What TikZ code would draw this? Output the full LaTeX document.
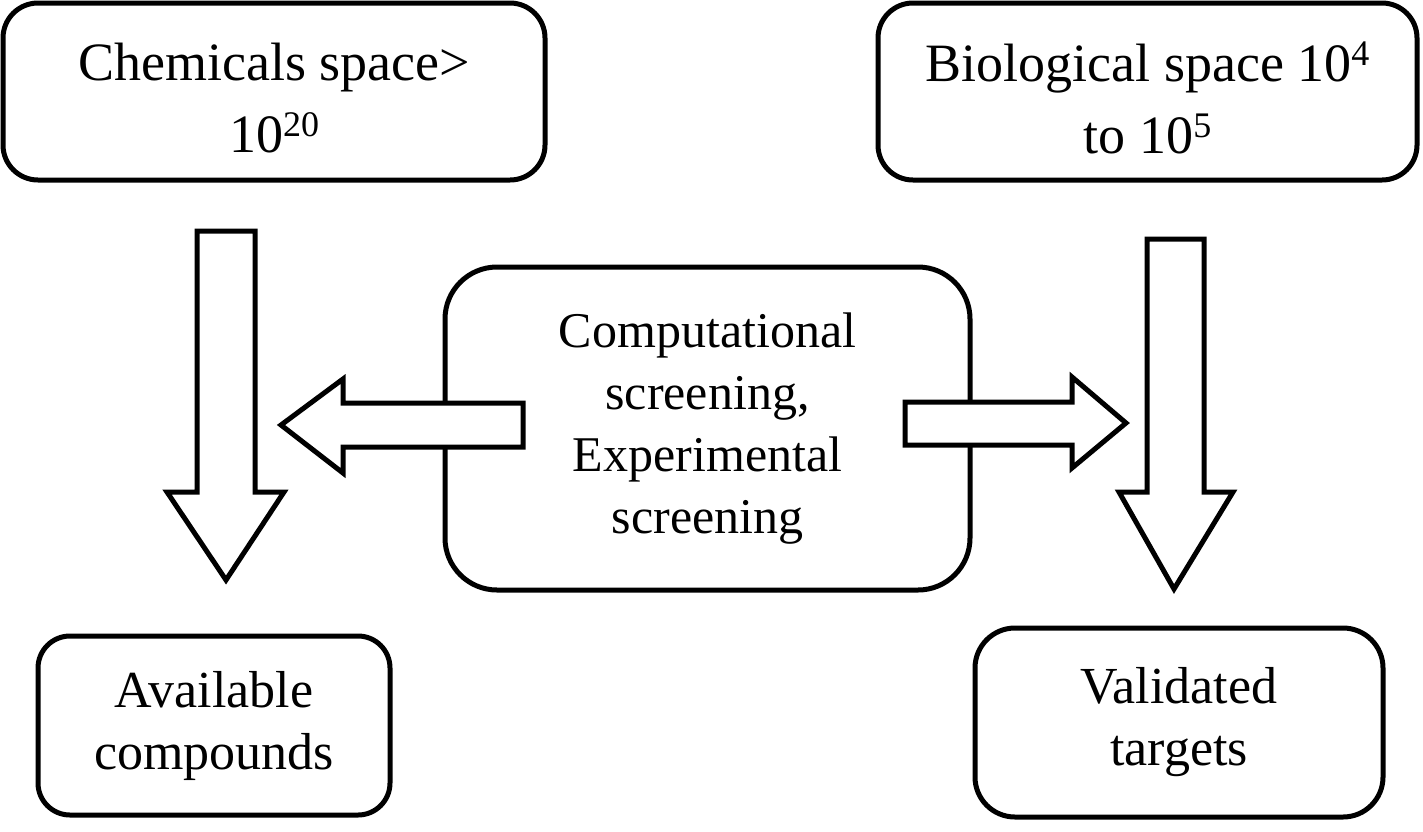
\documentclass[tikz,border=0pt]{standalone}
\usepackage{fontspec}
\setmainfont{Liberation Serif}
\newcommand\supr[1]{\raisebox{0.3em}{\fontsize{36}{36}\selectfont #1}}
\begin{document}
\begin{tikzpicture}[x=1pt,y=-1pt,
  box/.style={draw=black,line width=5pt,fill=white,inner sep=0pt,align=center},
  bigtext/.style={font=\fontsize{54}{72}\selectfont},
  midtext/.style={font=\fontsize{50}{62}\selectfont},
  lowtext/.style={font=\fontsize{52}{62}\selectfont},
  blockarrow/.style={draw=black,line width=5pt,fill=white,line join=miter}]
\useasboundingbox (0,0) rectangle (1423,831);
% boxes
\node[box,rounded corners=35pt,minimum width=542pt,minimum height=177pt] (chem) at (274,91.5) {};
\node[bigtext,align=center] (chemt) at (274,98) {Chemicals space>\\10\supr{20}};
\node[box,rounded corners=35pt,minimum width=539pt,minimum height=177pt] (bio) at (1147.5,91.5) {};
\node[bigtext,align=center] (biot) at (1147.5,98) {Biological space 10\supr{4}\\to 10\supr{5}};
\node[box,midtext,rounded corners=52pt,minimum width=525pt,minimum height=323pt] (scr) at (707.5,428.5) {Computational\\screening,\\Experimental\\screening};
\node[box,lowtext,rounded corners=32pt,minimum width=352pt,minimum height=179pt] (avail) at (214,725.5) {Available\\compounds};
\node[box,lowtext,rounded corners=40pt,minimum width=408pt,minimum height=189pt] (valid) at (1179,722.5) {Validated\\targets};
% left down arrow
\draw[blockarrow] (197,231) -- (255,231) -- (255,492) -- (284,492) -- (226,580) -- (167,492) -- (197,492) -- cycle;
% right down arrow
\draw[blockarrow] (1147,239) -- (1204,239) -- (1204,492) -- (1233,492) -- (1174,589) -- (1119,492) -- (1147,492) -- cycle;
% left arrow
\draw[blockarrow] (523,403) -- (343,403) -- (343,379) -- (281,425) -- (343,473) -- (343,447) -- (523,447) -- cycle;
% right arrow
\draw[blockarrow] (905,402) -- (1072,402) -- (1072,377) -- (1126,423) -- (1072,468) -- (1072,445) -- (905,445) -- cycle;
\end{tikzpicture}
\end{document}
